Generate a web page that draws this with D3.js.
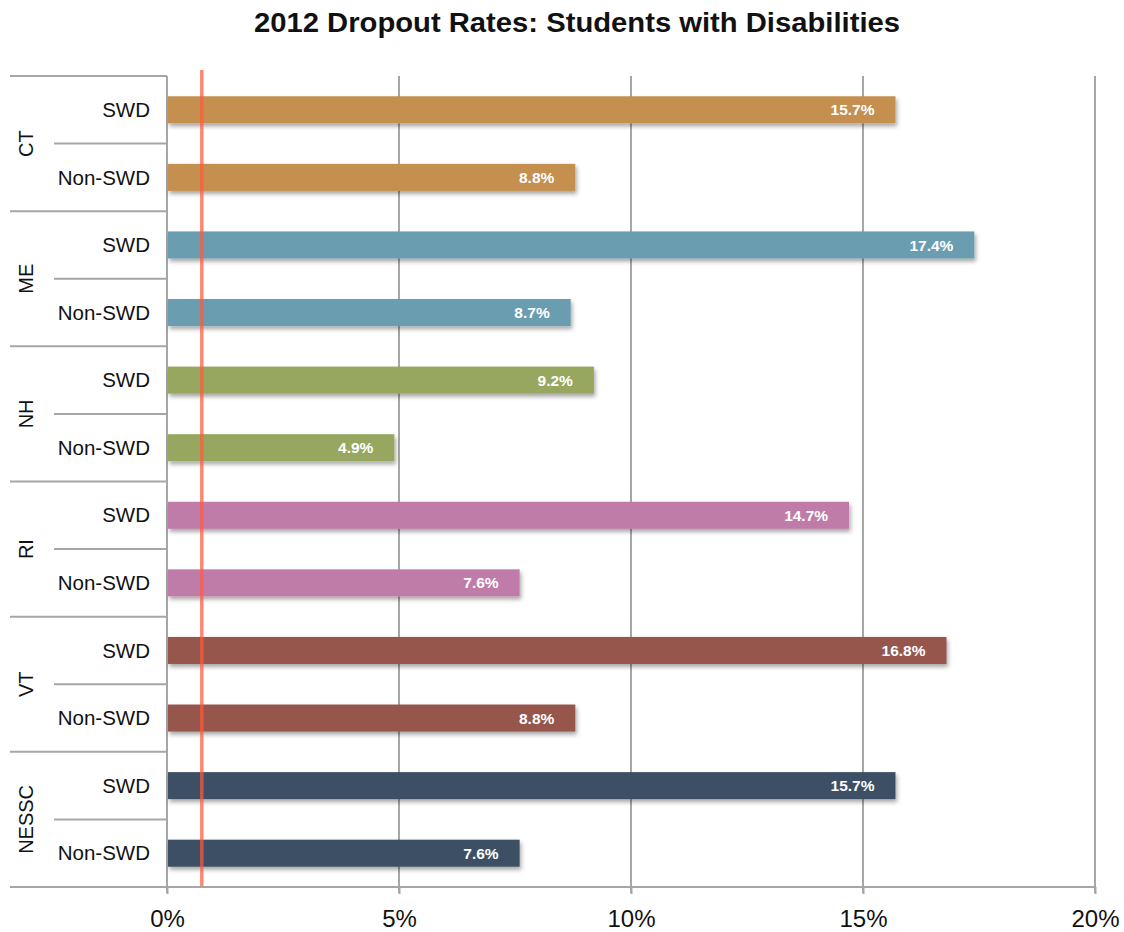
<!DOCTYPE html>
<html>
<head>
<meta charset="utf-8">
<script src="https://cdn.jsdelivr.net/npm/d3@7"></script>
<style>
  body { margin: 0; background: #fff; }
  svg { display: block; font-family: "Liberation Sans", Arial, Helvetica, sans-serif; }
</style>
</head>
<body>
<svg id="chart" width="1124" height="932"></svg>
<script>
// Dropout rates (%) by state, students with disabilities vs. without
const states = ["CT", "ME", "NH", "RI", "VT", "NESSC"];
const groups = ["SWD", "Non-SWD"];
const swdRates = [15.7, 17.4, 9.2, 14.7, 16.8, 15.7];
const nonSwdRates = [8.8, 8.7, 4.9, 7.6, 8.8, 7.6];
const stateColors = ["#c48f50", "#6a9daf", "#97a75e", "#c07ca8", "#96574c", "#3c5065"];
const xTicks = [0, 5, 10, 15, 20];
const referenceRate = 0.75;

(function () {
  const svg = d3.select("#chart");
  const plotL = 167, plotR = 1095, plotT = 76, plotB = 887;

  const x = d3.scaleLinear().domain([0, 20]).range([plotL, plotR]);
  const yState = d3.scaleBand().domain(states).range([plotT, plotB]);
  const yGroup = d3.scaleBand().domain(groups).range([0, yState.bandwidth()]).paddingInner(0.6).paddingOuter(0.3);

  const rows = [];
  states.forEach((s, i) => {
    rows.push({ state: s, group: "SWD", value: swdRates[i], color: stateColors[i] });
    rows.push({ state: s, group: "Non-SWD", value: nonSwdRates[i], color: stateColors[i] });
  });

  // drop shadow for bars
  const defs = svg.append("defs");
  const f = defs.append("filter").attr("id", "shadow").attr("x", "-5%").attr("y", "-30%").attr("width", "115%").attr("height", "190%");
  f.append("feDropShadow").attr("dx", 1.5).attr("dy", 3).attr("stdDeviation", 2.2).attr("flood-color", "#000").attr("flood-opacity", 0.35);

  // title
  svg.append("text")
    .attr("x", 577).attr("y", 32)
    .attr("text-anchor", "middle")
    .attr("font-size", 27).attr("font-weight", "bold").attr("fill", "#111")
    .attr("textLength", 646).attr("lengthAdjust", "spacingAndGlyphs")
    .text("2012 Dropout Rates: Students with Disabilities");

  // vertical gridlines
  svg.append("g").selectAll("line").data(xTicks.slice(1)).join("line")
    .attr("x1", d => x(d)).attr("x2", d => x(d))
    .attr("y1", plotT).attr("y2", plotB + 6)
    .attr("stroke", "#a6a6a6").attr("stroke-width", 2);

  // bottom axis
  const xAxis = svg.append("g").attr("transform", `translate(0,${plotB})`)
    .call(d3.axisBottom(x).tickValues(xTicks).tickFormat(d => d + "%").tickSize(7).tickPadding(16));
  xAxis.select(".domain").remove();
  xAxis.selectAll(".tick line").attr("stroke", "#a6a6a6").attr("stroke-width", 2);
  xAxis.selectAll(".tick text").attr("font-size", 24).attr("fill", "#111")
    .attr("font-family", "Liberation Sans, Arial, sans-serif");

  svg.append("line").attr("x1", 10).attr("x2", plotR).attr("y1", plotB).attr("y2", plotB)
    .attr("stroke", "#a6a6a6").attr("stroke-width", 2);

  // left axis line
  svg.append("line").attr("x1", plotL).attr("x2", plotL).attr("y1", plotT).attr("y2", plotB + 6)
    .attr("stroke", "#a6a6a6").attr("stroke-width", 2);

  // state boundary lines
  svg.append("g").selectAll("line").data(states).join("line")
    .attr("x1", 10).attr("x2", plotL)
    .attr("y1", d => yState(d)).attr("y2", d => yState(d))
    .attr("stroke", "#a6a6a6").attr("stroke-width", 2);

  // separator between SWD and Non-SWD within each state
  svg.append("g").selectAll("line").data(states).join("line")
    .attr("x1", 54).attr("x2", plotL)
    .attr("y1", d => yState(d) + yState.bandwidth() / 2).attr("y2", d => yState(d) + yState.bandwidth() / 2)
    .attr("stroke", "#a6a6a6").attr("stroke-width", 2);

  // state labels (rotated)
  svg.append("g").selectAll("text").data(states).join("text")
    .attr("transform", d => `translate(33,${yState(d) + yState.bandwidth() / 2}) rotate(-90)`)
    .attr("text-anchor", "middle")
    .attr("font-size", 20).attr("fill", "#111")
    .text(d => d);

  // group labels
  svg.append("g").selectAll("text").data(rows).join("text")
    .attr("x", 150)
    .attr("y", d => yState(d.state) + yGroup(d.group) + yGroup.bandwidth() / 2)
    .attr("dy", "0.35em")
    .attr("text-anchor", "end")
    .attr("font-size", 20.5).attr("fill", "#111")
    .text(d => d.group);

  // bars
  svg.append("g").selectAll("rect").data(rows).join("rect")
    .attr("x", x(0) + 1)
    .attr("y", d => yState(d.state) + yGroup(d.group))
    .attr("width", d => x(d.value) - x(0) - 1)
    .attr("height", yGroup.bandwidth())
    .attr("fill", d => d.color)
    .attr("filter", "url(#shadow)");

  // value labels
  svg.append("g").selectAll("text").data(rows).join("text")
    .attr("x", d => x(d.value) - 21)
    .attr("y", d => yState(d.state) + yGroup(d.group) + yGroup.bandwidth() / 2)
    .attr("dy", "0.36em")
    .attr("text-anchor", "end")
    .attr("font-size", 15.5).attr("font-weight", "bold").attr("fill", "#fff")
    .text(d => d.value.toFixed(1) + "%");

  // reference line
  svg.append("line")
    .attr("x1", x(referenceRate)).attr("x2", x(referenceRate))
    .attr("y1", 70).attr("y2", plotB - 1)
    .attr("stroke", "#ff5a3c").attr("stroke-opacity", 0.72).attr("stroke-width", 3.5);
})();
</script>
</body>
</html>
